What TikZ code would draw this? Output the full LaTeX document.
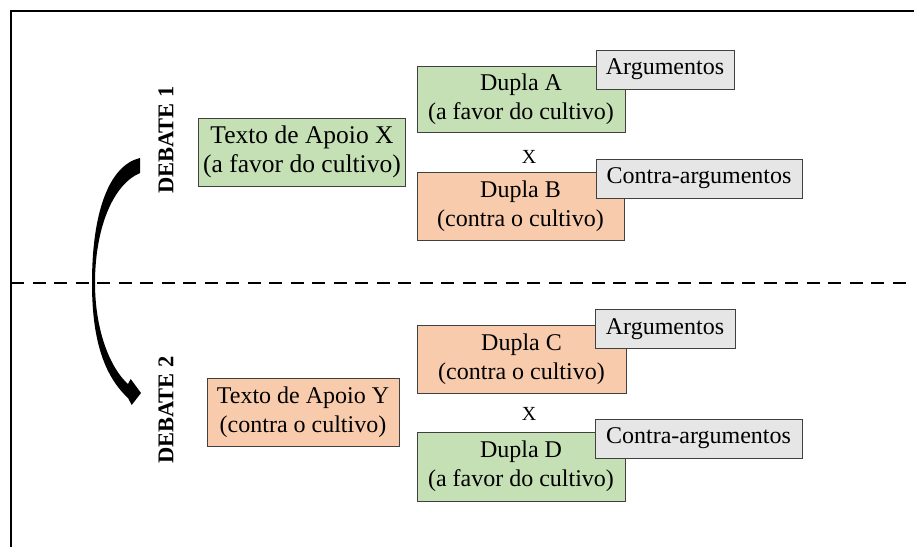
\documentclass[tikz,border=0pt]{standalone}
\usepackage{fontspec}
\setmainfont{Liberation Serif}
\definecolor{boxgreen}{HTML}{C5E0B4}
\definecolor{boxorange}{HTML}{F8CBAD}
\definecolor{boxgray}{HTML}{E7E6E6}
\definecolor{edge}{HTML}{404040}
\begin{document}
\begin{tikzpicture}[x=1pt,y=-1pt,
  card/.style={draw=edge, line width=1pt, inner sep=0pt, align=center,
    font=\fontsize{24}{29}\selectfont},
  greencard/.style={card, fill=boxgreen},
  orangecard/.style={card, fill=boxorange},
  tagcard/.style={card, fill=boxgray, minimum height=39pt},
  versus/.style={inner sep=0pt, font=\fontsize{20}{22}\selectfont},
  debatelabel/.style={inner sep=0pt, rotate=90, font=\fontsize{22.5}{24}\selectfont\bfseries}]
\useasboundingbox (0,0) rectangle (914,547);
% frame
\draw[line width=1.3pt] (11,547) -- (11,11) -- (914,11);
% dashed separator
\draw[line width=2.5pt, dash pattern=on 13pt off 8.5pt] (11,283) -- (914,283);
% curved arrow
\fill[black] (140,158) .. controls (110,165) and (92,210) .. (92,283)
  .. controls (92,330) and (100,372) .. (128,398)
  -- (131.7,405) -- (141,393) -- (130.7,379) -- (128,384)
  .. controls (110,368) and (95,330) .. (95,283)
  .. controls (95,230) and (112,185) .. (140,173) -- cycle;
% debate 1
\node[debatelabel] (deb1) at (166,140) {DEBATE 1};
\node[greencard, minimum width=207pt, minimum height=68pt, font=\fontsize{25.5}{29}\selectfont] (tx) at (302,152) {Texto de Apoio X\\(a favor do cultivo)};
\node[greencard, minimum width=208pt, minimum height=66pt] (da) at (521,99) {Dupla A\\(a favor do cultivo)};
\node[tagcard, minimum width=138pt] (arga) at (665,69.5) {Argumentos};
\node[versus] (xa) at (529,157) {X};
\node[orangecard, minimum width=207pt, minimum height=68pt] (db) at (520.5,206) {Dupla B\\(contra o cultivo)};
\node[tagcard, minimum width=206pt] (cab) at (699,178.5) {Contra-argumentos};
% debate 2
\node[debatelabel] (deb2) at (166,410) {DEBATE 2};
\node[orangecard, minimum width=192pt, minimum height=68pt] (ty) at (303,412) {Texto de Apoio Y\\(contra o cultivo)};
\node[orangecard, minimum width=209pt, minimum height=68pt] (dc) at (521.5,359) {Dupla C\\(contra o cultivo)};
\node[tagcard, minimum width=140pt] (argc) at (665,329) {Argumentos};
\node[versus] (xc) at (529,414) {X};
\node[greencard, minimum width=208pt, minimum height=69pt] (dd) at (521,466.5) {Dupla D\\(a favor do cultivo)};
\node[tagcard, minimum width=207pt] (cad) at (698.5,438.5) {Contra-argumentos};
\end{tikzpicture}
\end{document}
